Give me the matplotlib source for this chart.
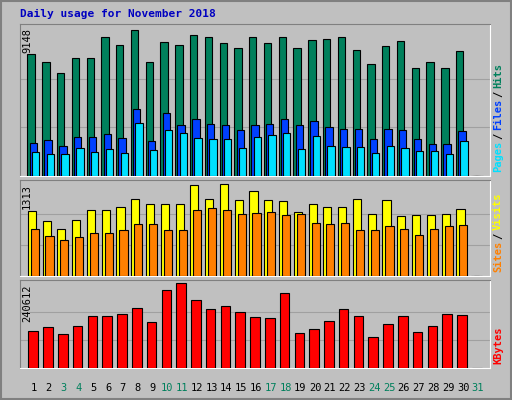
import numpy as np
import matplotlib.pyplot as plt

days = np.arange(1, 32)
hits = [7651, 7153, 6469, 7402, 7402, 8708, 8210, 9148, 7153, 8397, 8210, 8832, 8708, 8335, 8024,
        8708, 8335, 8708, 8024, 8521, 8584, 8708, 7899, 7029, 8148, 8459, 6780, 7153, 6780, 7837, 0]
files = [2053, 2239, 1866, 2426, 2426, 2612, 2364, 4167, 2177, 3919, 3172, 3545, 3234, 3172, 2861,
         3172, 3234, 3545, 3172, 3421, 3048, 2923, 2923, 2301, 2923, 2861, 2301, 1990, 1990, 2799, 0]
pages = [1493, 1368, 1368, 1742, 1493, 1679, 1431, 3297, 1617, 2861, 2675, 2364, 2301, 2301, 1742,
         2426, 2550, 2675, 1679, 2488, 1866, 1804, 1804, 1431, 1866, 1742, 1555, 1555, 1368, 2177, 0]
visits = [920, 788, 672, 803, 934, 934, 978, 1095, 1022, 1022, 1022, 1300, 1095, 1313, 1080,
          1212, 1080, 1066, 905, 1022, 978, 978, 1095, 876, 1080, 847, 861, 861, 876, 949, 0]
sites = [672, 569, 511, 555, 613, 613, 657, 745, 745, 657, 657, 934, 964, 934, 876,
         891, 905, 861, 876, 759, 745, 759, 657, 657, 715, 672, 584, 672, 715, 730, 0]
kbytes = [105600, 117400, 96800, 120300, 146700, 146700, 152600, 170200, 132000, 223000, 240612,
          193600, 167200, 176000, 158400, 143800, 140800, 214200, 99800, 111500, 135000, 167200,
          146700, 88000, 126200, 146700, 102700, 120300, 152600, 149600, 0]
weekend = [3, 4, 10, 11, 17, 18, 24, 25, 31]

BG = '#C0C0C0'
W, H = 512, 400
fig = plt.figure(figsize=(5.12, 4.0), dpi=100, facecolor=BG)
mono = 'DejaVu Sans Mono'


def px(x0, y0, x1, y1):
    return [x0 / W, 1 - y1 / H, (x1 - x0) / W, (y1 - y0) / H]


def panel(rect, series, colors, maxval, toplabel, names, width, offs):
    ax = fig.add_axes(px(*rect), facecolor=BG)
    for s, c, o in zip(series, colors, offs):
        ax.bar(days + o, s, width=width, color=c, edgecolor='black', linewidth=0.8, zorder=3)
    ax.set_xlim(0.1, 31.9)
    ax.set_ylim(0, maxval * 1.04)
    for f in (1 / 3, 2 / 3):
        ax.axhline(maxval * f, color='#A0A0A0', lw=0.8, zorder=1)
    ax.set_xticks([])
    ax.set_yticks([])
    for side in ('top', 'left'):
        ax.spines[side].set_color('#808080')
    for side in ('bottom', 'right'):
        ax.spines[side].set_color('white')
    x0, y0, x1, y1 = rect
    fig.text(27 / W, 1 - (y0 + 4) / H, toplabel, rotation=90, ha='center', va='top',
             fontsize=7.5, family=mono)
    # right side multicolour label, bottom to top
    y = y1 - 4
    step = 6.0
    parts = []
    for i, (n, c) in enumerate(names):
        if i:
            parts.append(('/', 'black'))
        parts.append((n, c))
    for t, c in parts:
        fig.text(498 / W, 1 - y / H, t, rotation=90, ha='center', va='bottom',
                 fontsize=7.5, family=mono, color=c, fontweight='bold')
        y -= step * len(t) + 3
    return ax


panel((20, 24, 490, 176), [hits, files, pages], ['#00805C', '#0040FF', '#00E0FF'], 9148, '9148',
      [('Pages', '#00E0FF'), ('Files', '#0040FF'), ('Hits', '#00805C')], 0.5, [-0.15, 0.0, 0.15])
panel((20, 180, 490, 276), [visits, sites], ['#FFFF00', '#FF8000'], 1313, '1313',
      [('Sites', '#FF8000'), ('Visits', '#FFFF00')], 0.55, [-0.1, 0.1])
panel((20, 280, 490, 368), [kbytes], ['#FF0000'], 240612, '240612',
      [('KBytes', '#FF0000')], 0.65, [0.0])

for d in days:
    x = 34 + (d - 1) * 14.8
    fig.text(x / W, 1 - 388 / H, str(d), ha='center', va='center', fontsize=7.5, family=mono,
             color='#00805C' if d in weekend else 'black')

fig.text(20 / W, 1 - 14 / H, 'Daily usage for November 2018', ha='left', va='center',
         fontsize=8, family=mono, fontweight='bold', color='#0000C0')

# outer bevel
fig.add_artist(plt.Rectangle((0.002, 0.002), 0.996, 0.996, transform=fig.transFigure,
                             fill=False, edgecolor='#808080', lw=1.5))
fig.savefig('out.png', dpi=100, facecolor=BG)
